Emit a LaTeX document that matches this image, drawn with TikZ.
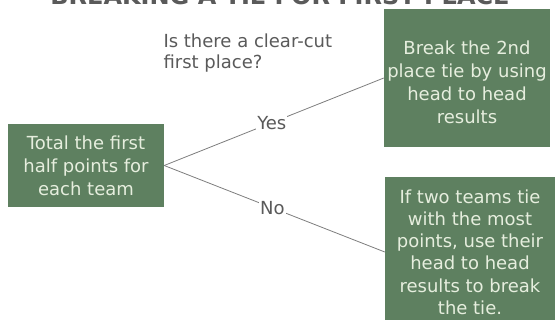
\documentclass[tikz,border=0pt]{standalone}
\usepackage{fontspec}
\setmainfont{DejaVu Sans}
\usetikzlibrary{positioning}
\definecolor{boxgreen}{RGB}{94,128,96}
\definecolor{boxtext}{RGB}{230,238,222}
\definecolor{labelgray}{RGB}{90,90,90}
\definecolor{linegray}{RGB}{125,125,125}

\begin{document}
\begin{tikzpicture}[
    x=1pt, y=-1pt,
    box/.style={rectangle, fill=boxgreen, text=boxtext, align=center, inner sep=0pt, font=\fontsize{18}{23}\selectfont},
    lbl/.style={text=labelgray, font=\fontsize{18}{21}\selectfont},
    link/.style={draw=linegray, line width=0.8pt}
]
\useasboundingbox (0,0) rectangle (559,320);
\clip (0,0) rectangle (559,320);

% heading, cut off at the top edge
\node[text=labelgray, font=\bfseries\fontsize{24}{24}\selectfont, anchor=base] (title) at (280,5) {BREAKING A TIE FOR FIRST PLACE};

\node[box, minimum width=156pt, minimum height=83pt] (total) at (86,165.5) {Total the first\\half points for\\each team};
\node[box, minimum width=166pt, minimum height=138pt] (brk) at (467,78) {\rule{0pt}{22pt}Break the 2nd\\place tie by using\\head to head\\results};
\node[box, minimum width=170pt, minimum height=150pt, font=\fontsize{18}{22.2}\selectfont] (tie) at (470,252) {If two teams tie\\with the most\\points, use their\\head to head\\results to break\\the tie.};

\node[lbl, anchor=west, align=left] (ask) at (160,53) {Is there a clear-cut\\first place?};

\draw[link] (total.east) -- node[lbl, fill=white, inner sep=1pt, pos=0.49] (yes) {Yes} (brk.west);
\draw[link] (total.east) -- node[lbl, fill=white, inner sep=1pt, pos=0.49] (no) {No} (tie.west);

\end{tikzpicture}
\end{document}
